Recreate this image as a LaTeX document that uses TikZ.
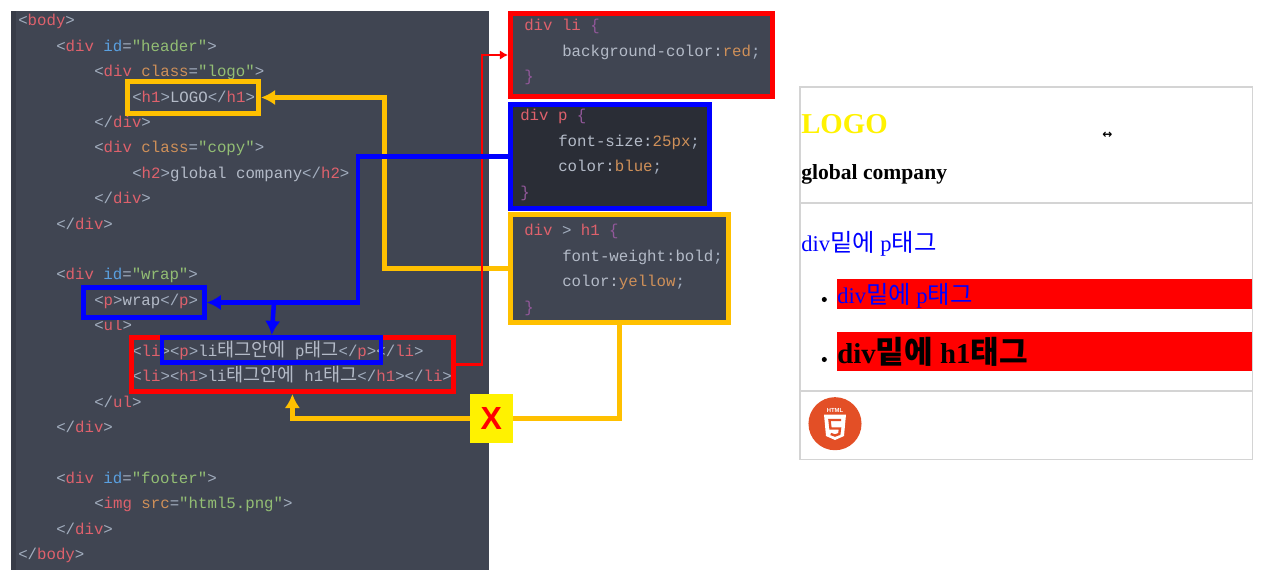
\documentclass[tikz,border=0pt]{standalone}
\usepackage{fontspec}
\usetikzlibrary{arrows.meta}
\setmainfont{Liberation Serif}
\newfontfamily\codefont{Liberation Mono}
\newfontfamily\krcode[Scale=1.18]{Noto Sans CJK KR}
\newfontfamily\krhtml[Scale=1.08]{Noto Sans CJK KR}
\newfontfamily\arial{Liberation Sans}
\newfontfamily\dejavu{DejaVu Sans}
\definecolor{codebg}{HTML}{404552}
\definecolor{codedark}{HTML}{2A2D36}
\definecolor{gutter}{HTML}{383C48}
\definecolor{cpun}{HTML}{A3AEBF}
\definecolor{ctxt}{HTML}{B4BBC8}
\definecolor{ctag}{HTML}{DE616C}
\definecolor{cid}{HTML}{5AA0E0}
\definecolor{cattr}{HTML}{CF9059}
\definecolor{cstr}{HTML}{93BE74}
\definecolor{cbrace}{HTML}{93589B}
\definecolor{amber}{HTML}{FFC000}
\definecolor{frameline}{HTML}{D4D4D4}
\definecolor{html5}{HTML}{E34F26}
\newcommand{\pn}[1]{\textcolor{cpun}{#1}}
\newcommand{\tx}[1]{\textcolor{ctxt}{#1}}
\newcommand{\tg}[1]{\textcolor{ctag}{#1}}
\newcommand{\ia}[1]{\textcolor{cid}{#1}}
\newcommand{\ca}[1]{\textcolor{cattr}{#1}}
\newcommand{\st}[1]{\textcolor{cstr}{#1}}
\newcommand{\bc}[1]{\textcolor{cbrace}{#1}}
\newcommand{\otag}[1]{\pn{<}\tg{#1}\pn{>}}
\newcommand{\etag}[1]{\pn{</}\tg{#1}\pn{>}}

\begin{document}
\begin{tikzpicture}[
  x=0.75pt,y=-0.75pt,
  wh/.style 2 args={minimum width=#1*0.75pt,minimum height=#2*0.75pt},
  solid box/.style={inner sep=0pt,outer sep=0pt},
  code/.style={anchor=base west,inner sep=0pt,text=ctxt,font={\codefont\fontsize{11.8}{14}\selectfont}},
  page/.style={anchor=base west,inner sep=0pt},
  frame/.style={draw,line width=3.4pt,inner sep=0pt},
  conn/.style={line width=3.4pt,amber,-{Latex[length=10.5pt,width=11.5pt]}},
  thin conn/.style={line width=2.1pt,red,-{Latex[length=6pt,width=7pt]}},
  bullet/.style={circle,fill=black,inner sep=0pt,minimum size=3.8pt}
]
  \useasboundingbox (0,0) rectangle (1261,588);

  \node[solid box,fill=codebg,wh={478}{559}] (editor) at (250,290.5) {};
  \node[solid box,fill=gutter,wh={5}{559}] (margin) at (13.5,290.5) {};

  \node[code] (l0) at (18,26) {\otag{body}};
  \node[code] (l1) at (56,51.4) {\pn{<}\tg{div} \ia{id}\pn{=}\st{"header"}\pn{>}};
  \node[code] (l2) at (94,76.8) {\pn{<}\tg{div} \ca{class}\pn{=}\st{"logo"}\pn{>}};
  \node[code] (l3) at (132,102.2) {\otag{h1}LOGO\etag{h1}};
  \node[code] (l4) at (94,127.6) {\etag{div}};
  \node[code] (l5) at (94,153) {\pn{<}\tg{div} \ca{class}\pn{=}\st{"copy"}\pn{>}};
  \node[code] (l6) at (132,178.4) {\otag{h2}global company\etag{h2}};
  \node[code] (l7) at (94,203.8) {\etag{div}};
  \node[code] (l8) at (56,229.2) {\etag{div}};
  \node[code] (l10) at (56,280) {\pn{<}\tg{div} \ia{id}\pn{=}\st{"wrap"}\pn{>}};
  \node[code] (l11) at (94,305.4) {\otag{p}wrap\etag{p}};
  \node[code] (l12) at (94,330.8) {\otag{ul}};
  \node[code] (l13) at (132,356.2) {\otag{li}\otag{p}li{\krcode 태그안에} p{\krcode 태그}\etag{p}\etag{li}};
  \node[code] (l14) at (132,381.6) {\otag{li}\otag{h1}li{\krcode 태그안에} h1{\krcode 태그}\etag{h1}\etag{li}};
  \node[code] (l15) at (94,407) {\etag{ul}};
  \node[code] (l16) at (56,432.4) {\etag{div}};
  \node[code] (l18) at (56,483.2) {\pn{<}\tg{div} \ia{id}\pn{=}\st{"footer"}\pn{>}};
  \node[code] (l19) at (94,508.6) {\pn{<}\tg{img} \ca{src}\pn{=}\st{"html5.png"}\pn{>}};
  \node[code] (l20) at (56,534) {\etag{div}};
  \node[code] (l21) at (18,559.4) {\etag{body}};

  \node[frame,draw=red,fill=codebg,wh={262.5}{83.5}] (cssli) at (641.5,55) {};
  \node[frame,draw=blue,fill=codedark,wh={199.5}{104.5}] (cssp) at (610,156.5) {};
  \node[frame,draw=amber,fill=codebg,wh={218.5}{108.5}] (cssh) at (619.5,268.5) {};

  \node[code] (a0) at (524,31) {\tg{div li} \bc{\{}};
  \node[code] (a1) at (562,56.4) {background-color:\ca{red}\pn{;}};
  \node[code] (a2) at (524,81.8) {\bc{\}}};
  \node[code] (b0) at (520,121) {\tg{div p} \bc{\{}};
  \node[code] (b1) at (558,146.4) {font-size:\ca{25px}\pn{;}};
  \node[code] (b2) at (558,171.8) {color:\ca{blue}\pn{;}};
  \node[code] (b3) at (520,197.2) {\bc{\}}};
  \node[code] (c0) at (524,236) {\tg{div} \pn{>} \tg{h1} \bc{\{}};
  \node[code] (c1) at (562,261.4) {font-weight:bold\pn{;}};
  \node[code] (c2) at (562,286.8) {color:\ca{yellow}\pn{;}};
  \node[code] (c3) at (524,312.2) {\bc{\}}};

  \node[frame,draw=amber,wh={131.5}{32.5}] (logobox) at (193,97.5) {};
  \node[frame,draw=blue,wh={121}{30.5}] (wrapbox) at (144,302.5) {};
  \node[frame,draw=red,wh={322}{54.5}] (libox) at (292.4,364.5) {};
  \node[frame,draw=blue,wh={219}{25.5}] (pbox) at (271.7,350) {};
  \node[solid box,fill=yellow,wh={43.4}{49},text=red,font={\arial\bfseries\fontsize{24}{24}\selectfont}] (xbox) at (491.3,418.5) {X};

  \coordinate (amberbend) at (384.5,268.5);
  \coordinate (redbend) at (482,364.5);
  \coordinate (bluebend) at (358,156.5);
  \coordinate (bluesplit) at (274,302.5);

  \draw[conn] (cssh.west)--(amberbend)|-(logobox.east);
  \draw[conn] (cssh.south)|-(xbox.east) (xbox.west)-|(libox.south);
  \draw[thin conn] (libox.east)--(redbend)|-(cssli.west);
  \draw[conn,blue] (cssp.west)--(bluebend)|-(wrapbox.east);
  \draw[conn,blue] (bluesplit)--(pbox.north);

  \node[solid box,draw=frameline,line width=1pt,wh={452.7}{372.3}] (site) at (1026.4,273.2) {};
  \draw[frameline,line width=1.2pt] (site.west|-0,203)--(site.east|-0,203);
  \draw[frameline,line width=1.2pt] (site.west|-0,390.7)--(site.east|-0,390.7);

  \node[solid box,fill=red,wh={415.5}{30}] (bar1) at (1044.5,294) {};
  \node[solid box,fill=red,wh={415.5}{39}] (bar2) at (1044.5,351.2) {};

  \node[page,text=yellow,font={\bfseries\fontsize{21.6}{24}\selectfont}] (logo) at (801,133.3) {LOGO};
  \node[page,font={\bfseries\fontsize{16.2}{20}\selectfont}] (company) at (801,180) {global company};
  \node[page,text=blue,font={\fontsize{16.9}{20}\selectfont}] (wrap) at (801,251.7) {div{\krhtml 밑에} p{\krhtml 태그}};
  \node[page,text=blue,font={\fontsize{16.9}{20}\selectfont}] (item1) at (837,303.5) {div{\krhtml 밑에} p{\krhtml 태그}};
  \node[page,font={\bfseries\fontsize{21.6}{24}\selectfont}] (item2) at (837,363.5) {div{\krhtml 밑에} h1{\krhtml 태그}};
  \node[bullet] (dot1) at (824.3,299.5) {};
  \node[bullet] (dot2) at (824.3,359.5) {};
  \node[inner sep=0pt,font={\dejavu\bfseries\fontsize{9}{9}\selectfont}] (cursor) at (1107.5,135) {↔};

  \node[circle,solid box,fill=html5,minimum size=39.8pt] (badge) at (835,423.7) {};
  \node[inner sep=0pt,text=white,font={\arial\bfseries\fontsize{4.4}{5}\selectfont}] (badgetext) at (835,410) {HTML};
  \fill[white] (824,414.5)--(846,414.5)--(844,436)--(835,440)--(826,436)--cycle;
  \draw[html5,line width=1.8pt] (841,420)--(829.5,420)--(830.5,428.5)--(840,428.5)--(839.3,434)--(835,435.5)--(830.7,434);
\end{tikzpicture}
\end{document}
